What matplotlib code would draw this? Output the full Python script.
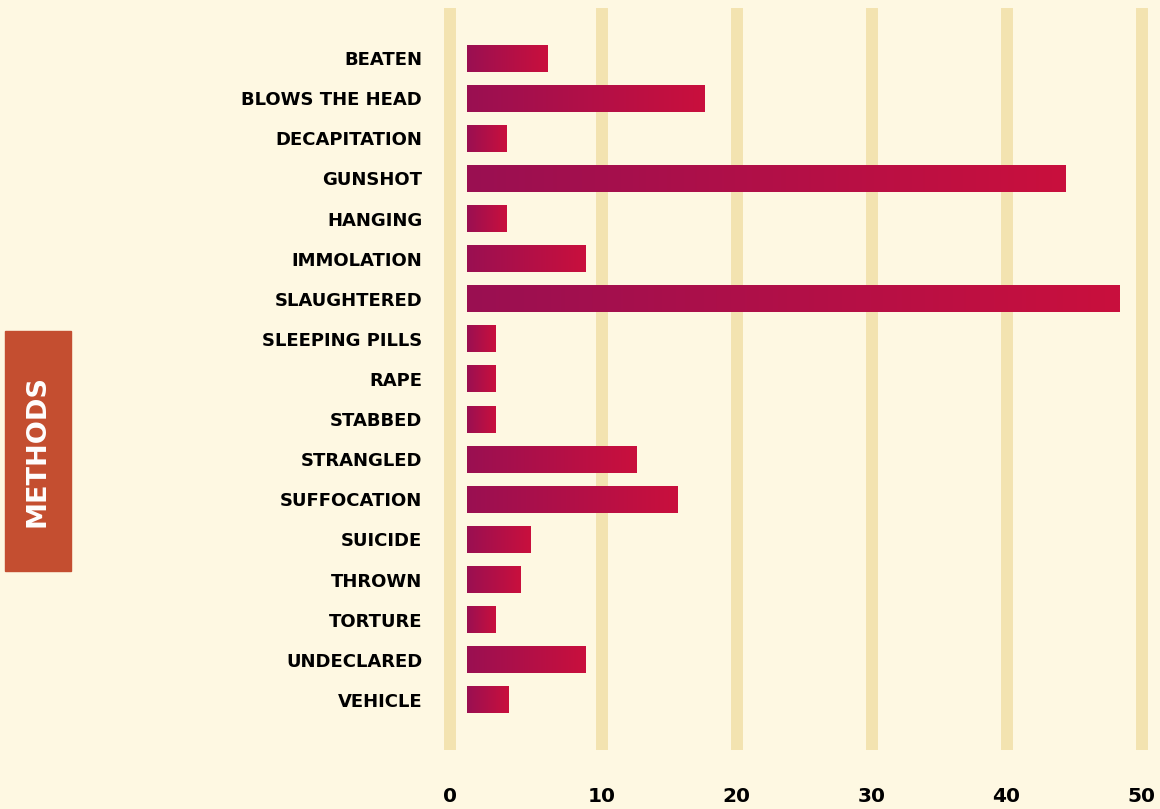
import matplotlib
matplotlib.use("Agg")
import matplotlib.pyplot as plt
import numpy as np
from matplotlib.colors import LinearSegmentedColormap
from matplotlib.patches import Rectangle

categories = ["BEATEN", "BLOWS THE HEAD", "DECAPITATION", "GUNSHOT", "HANGING",
              "IMMOLATION", "SLAUGHTERED", "SLEEPING PILLS", "RAPE", "STABBED",
              "STRANGLED", "SUFFOCATION", "SUICIDE", "THROWN", "TORTURE",
              "UNDECLARED", "VEHICLE"]
values = [6.0, 17.6, 2.9, 44.4, 2.9, 8.8, 48.4, 2.1, 2.1, 2.1,
          12.6, 15.6, 4.7, 4.0, 2.1, 8.8, 3.1]
tick_values = [10, 20, 30, 40, 50]
tick_labels = ["0", "10", "20", "30", "40", "50"]

BG = "#FEF8E2"
GRID = "#F3E3B0"
cmap = LinearSegmentedColormap.from_list("g", ["#9A0F52", "#C9103D"])
FONT = "DejaVu Sans"

fig = plt.figure(figsize=(11.6, 8.09), dpi=100)
fig.patch.set_facecolor(BG)
ax = fig.add_axes([450/1160, 59/809, 710/1160, 742/809])
ax.set_facecolor(BG)
xmin, xmax = -1.26, 51.37
n = len(categories)

grid_pos = [xmin] + tick_values
for g in grid_pos:
    ax.axvline(g, color=GRID, lw=8.6, zorder=0, clip_on=False, solid_capstyle="butt")

h = 0.67
grad = np.linspace(0, 1, 256).reshape(1, -1)
for i, v in enumerate(values):
    ax.imshow(grad, cmap=cmap, aspect="auto", extent=(0, v, i + h/2, i - h/2),
              zorder=2, interpolation="bilinear")
ax.set_xlim(xmin, xmax)
ax.set_ylim(n - 1 + 1.25, -1.25)

ax.set_yticks(range(n))
ax.set_yticklabels(categories, fontsize=13, fontweight="bold", family=FONT,
                   va="center_baseline")
ax.tick_params(axis="y", length=0, pad=20)
ax.set_xticks(grid_pos)
ax.set_xticklabels(tick_labels, fontsize=14.5, fontweight="bold", family=FONT)
ax.tick_params(axis="x", length=0, pad=27)
for s in ax.spines.values():
    s.set_visible(False)

fig.patches.append(Rectangle((5/1160, (809-571)/809), 66/1160, 240/809,
                             transform=fig.transFigure, color="#C44E30", zorder=0))
fig.text(38/1160, (809-451)/809, "METHODS", rotation=90, color="white",
         fontsize=19.5, fontweight="bold", family=FONT, ha="center", va="center")

fig.savefig("out.png", dpi=100, facecolor=BG)
